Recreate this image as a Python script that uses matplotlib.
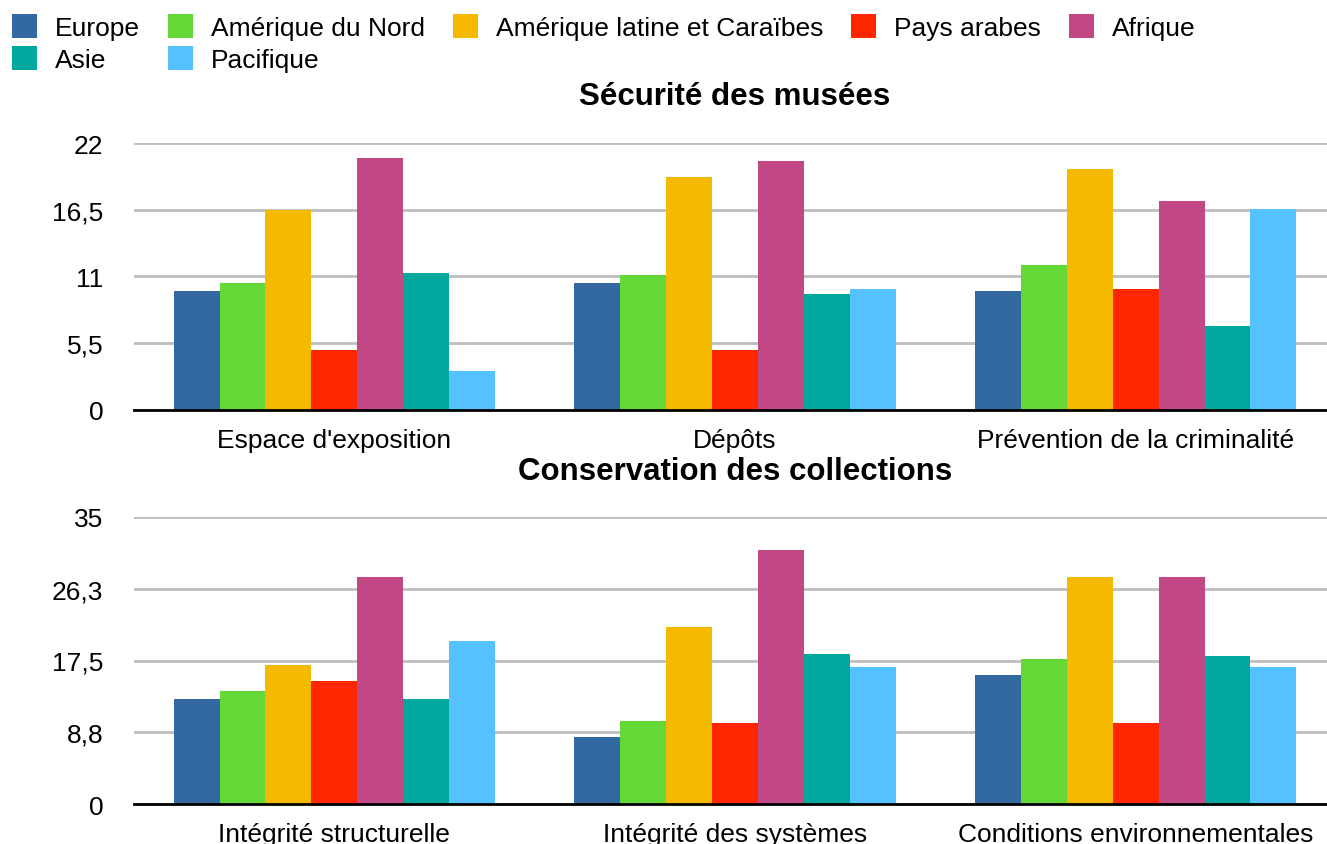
import numpy as np
import matplotlib.pyplot as plt
from matplotlib.patches import Patch

plt.rcParams['font.family'] = ['Liberation Sans', 'DejaVu Sans']

regions = ["Europe", "Amérique du Nord", "Amérique latine et Caraïbes",
           "Pays arabes", "Afrique", "Asie", "Pacifique"]
colors = ["#3269a1", "#63d836", "#f5b900", "#ff2600", "#c14884", "#02a89e", "#56c1ff"]

# Sécurité des musées
cats_top = ["Espace d'exposition", "Dépôts", "Prévention de la criminalité"]
top_europe = [9.8, 10.45, 9.8]
top_amnord = [10.5, 11.1, 11.95]
top_amlat = [16.5, 19.2, 19.85]
top_arabes = [4.95, 4.93, 9.95]
top_afrique = [20.8, 20.5, 17.2]
top_asie = [11.3, 9.55, 6.9]
top_pacifique = [3.2, 9.95, 16.55]

# Conservation des collections
cats_bot = ["Intégrité structurelle", "Intégrité des systèmes", "Conditions environnementales"]
bot_europe = [12.8, 8.23, 15.7]
bot_amnord = [13.8, 10.1, 17.7]
bot_amlat = [16.95, 21.6, 27.7]
bot_arabes = [15.0, 9.9, 9.9]
bot_afrique = [27.7, 30.95, 27.7]
bot_asie = [12.8, 18.3, 18.0]
bot_pacifique = [19.9, 16.7, 16.7]

top_ticks = [0, 5.5, 11, 16.5, 22]
top_labels = ["0", "5,5", "11", "16,5", "22"]
bot_ticks = [0, 8.75, 17.5, 26.25, 35]
bot_labels = ["0", "8,8", "17,5", "26,3", "35"]

W, H = 1327, 845
fig = plt.figure(figsize=(W / 100, H / 100), dpi=100)

ax1 = fig.add_axes([134 / W, 1 - 410.7 / H, 1202 / W, 266.5 / H])
ax2 = fig.add_axes([134 / W, 1 - 805.3 / H, 1202 / W, 287.6 / H])


def draw(ax, cats, series, ticks, labels):
    x = np.arange(len(cats))
    bw = 0.1146
    n = len(series)
    for i, vals in enumerate(series):
        ax.bar(x + (i - (n - 1) / 2) * bw, vals, width=bw, color=colors[i],
               zorder=3, linewidth=0)
    ax.set_xlim(-0.5, len(cats) - 0.5)
    ax.set_ylim(0, ticks[-1])
    ax.set_xticks(x)
    ax.set_xticklabels(cats, fontsize=19)
    ax.set_yticks(ticks)
    ax.set_yticklabels(labels, fontsize=19)
    ax.tick_params(axis='both', length=0)
    ax.tick_params(axis='x', pad=13)
    ax.tick_params(axis='y', pad=22)
    for s in ['top', 'right', 'left']:
        ax.spines[s].set_visible(False)
    ax.spines['bottom'].set_linewidth(2.0)
    ax.spines['bottom'].set_color('black')
    ax.spines['bottom'].set_zorder(5)
    ax.yaxis.grid(True, color='#bdbdbd', linewidth=2.0, zorder=0)
    ax.set_axisbelow(True)


draw(ax1, cats_top, [top_europe, top_amnord, top_amlat, top_arabes,
                     top_afrique, top_asie, top_pacifique], top_ticks, top_labels)
draw(ax2, cats_bot, [bot_europe, bot_amnord, bot_amlat, bot_arabes,
                     bot_afrique, bot_asie, bot_pacifique], bot_ticks, bot_labels)

fig.text(735 / W, 1 - 105 / H, "Sécurité des musées", ha='center', va='baseline',
         fontsize=22.5, fontweight='bold')
fig.text(735 / W, 1 - 480.5 / H, "Conservation des collections", ha='center',
         va='baseline', fontsize=22.5, fontweight='bold')

# legend, column-major order so rows read like the reference
order = [0, 5, 1, 6, 2, 3, 4]
handles = [Patch(facecolor=colors[i], edgecolor='none') for i in order]
fig.legend(handles, [regions[i] for i in order], ncol=5, loc='upper left',
           bbox_to_anchor=(12 / W, 1 - 15 / H), frameon=False, fontsize=19,
           handlelength=0.95, handleheight=1.0, handletextpad=0.68,
           columnspacing=1.06, labelspacing=0.25, borderpad=0, borderaxespad=0)

fig.savefig("out.png", dpi=100)
